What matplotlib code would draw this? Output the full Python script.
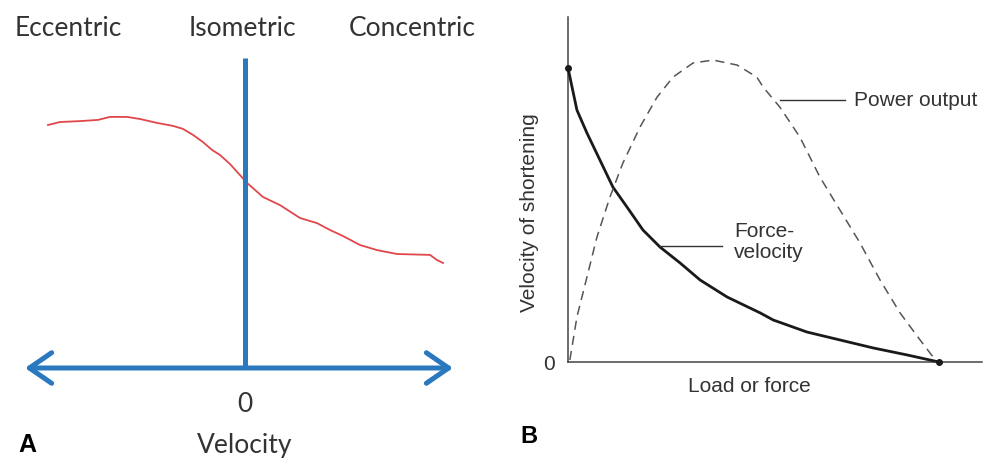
import matplotlib
matplotlib.use('Agg')
import matplotlib.pyplot as plt
from matplotlib.patches import FancyArrowPatch

# panel A: force vs velocity (hand drawn red curve)
vel_a = [-0.985, -0.925, -0.825, -0.735, -0.675, -0.59, -0.525, -0.44, -0.36, -0.31, -0.26,
         -0.21, -0.165, -0.125, -0.075, -0.025, 0.01, 0.09, 0.175, 0.275, 0.36, 0.425, 0.49,
         0.575, 0.66, 0.76, 0.925, 0.96, 0.99]
force_a = [0.81, 0.82, 0.823, 0.827, 0.837, 0.837, 0.83, 0.817, 0.807, 0.797, 0.777,
           0.753, 0.727, 0.71, 0.68, 0.643, 0.617, 0.57, 0.543, 0.50, 0.483, 0.46, 0.44,
           0.41, 0.393, 0.38, 0.377, 0.36, 0.35]
zone_labels = ['Eccentric', 'Isometric', 'Concentric']
zone_x = [-0.885, -0.015, 0.835]

# panel B: force-velocity and power output
load_fv = [0, 0.024, 0.051, 0.086, 0.121, 0.159, 0.202, 0.248, 0.302, 0.356, 0.429, 0.518,
           0.553, 0.644, 0.733, 0.822, 0.914, 1.0]
vel_fv = [1.0, 0.857, 0.779, 0.687, 0.595, 0.527, 0.449, 0.391, 0.337, 0.279, 0.221, 0.167,
          0.143, 0.102, 0.075, 0.048, 0.024, 0.0]
load_pw = [0.005, 0.024, 0.051, 0.078, 0.113, 0.148, 0.194, 0.240, 0.283, 0.337, 0.391, 0.456,
           0.509, 0.526, 0.571, 0.625, 0.679, 0.733, 0.787, 0.841, 0.895, 0.949, 0.984, 0.99]
power = [0.007, 0.153, 0.289, 0.425, 0.561, 0.677, 0.799, 0.901, 0.969, 1.017, 1.027, 1.010,
         0.969, 0.935, 0.867, 0.765, 0.629, 0.517, 0.405, 0.279, 0.167, 0.075, 0.017, 0.0]

blue = '#2a78bd'
grey = '#333333'

fig = plt.figure(figsize=(9.84, 4.63), dpi=100)

# ---- A ----
ax = fig.add_axes([0, 0, 0.5, 1])
ax.set_xlim(-1.225, 1.235)
ax.set_ylim(-0.3167, 1.2267)
ax.axis('off')

ax.plot(vel_a, force_a, color='#e0474c', lw=1.3)
ax.plot([0, 0], [0, 1.033], color=blue, lw=3.6, solid_capstyle='butt')
arr = FancyArrowPatch((-1.1, 0), (1.04, 0), arrowstyle='<->,head_length=0.8,head_width=0.55',
                      mutation_scale=20, color=blue, lw=3.6, shrinkA=0, shrinkB=0)
ax.add_patch(arr)
for lab, x in zip(zone_labels, zone_x):
    ax.text(x, 1.133, lab, ha='center', va='center', fontsize=19, color=grey, family='Lato')
ax.text(0, -0.123, '0', ha='center', va='center', fontsize=19, color=grey, family='Lato')
ax.text(0, -0.257, 'Velocity', ha='center', va='center', fontsize=19, color=grey, family='Lato')
ax.text(-1.135, -0.257, 'A', ha='left', va='center', fontsize=18, fontweight='bold', color='black',
        family='Liberation Sans')

# ---- B ----
bx = fig.add_axes([0.5, 0, 0.5, 1])
bx.set_xlim(-0.2049, 1.1213)
bx.set_ylim(-0.3435, 1.2313)
bx.axis('off')

bx.plot([0, 0], [0, 1.173], color='#444444', lw=1.1)
bx.plot([0, 1.116], [0, 0], color='#444444', lw=1.1)
bx.plot(load_fv, vel_fv, color='#1a1a1a', lw=2.0)
bx.plot(load_pw, power, color='#555555', lw=1.1, ls=(0, (6, 4)))
bx.plot([load_fv[0], load_fv[-1]], [vel_fv[0], vel_fv[-1]], 'o', color='#1a1a1a', ms=4, ls='none')

bx.plot([0.571, 0.747], [0.891, 0.891], color='#333333', lw=1.0)
bx.text(0.771, 0.891, 'Power output', ha='left', va='center', fontsize=15, color=grey,
        family='Liberation Sans')
bx.plot([0.248, 0.415], [0.395, 0.395], color='#333333', lw=1.0)
bx.text(0.447, 0.408, 'Force-\nvelocity', ha='left', va='center', fontsize=15, color=grey,
        family='Liberation Sans', linespacing=1.15)
bx.text(-0.105, 0.507, 'Velocity of shortening', ha='center', va='center', rotation=90,
        fontsize=15, color=grey, family='Liberation Sans')
bx.text(-0.051, -0.01, '0', ha='center', va='center', fontsize=15, color=grey,
        family='Liberation Sans')
bx.text(0.49, -0.085, 'Load or force', ha='center', va='center', fontsize=15, color=grey,
        family='Liberation Sans')
bx.text(-0.105, -0.255, 'B', ha='center', va='center', fontsize=17, fontweight='bold', color='black',
        family='Liberation Sans')

fig.savefig('out.png', dpi=100)
